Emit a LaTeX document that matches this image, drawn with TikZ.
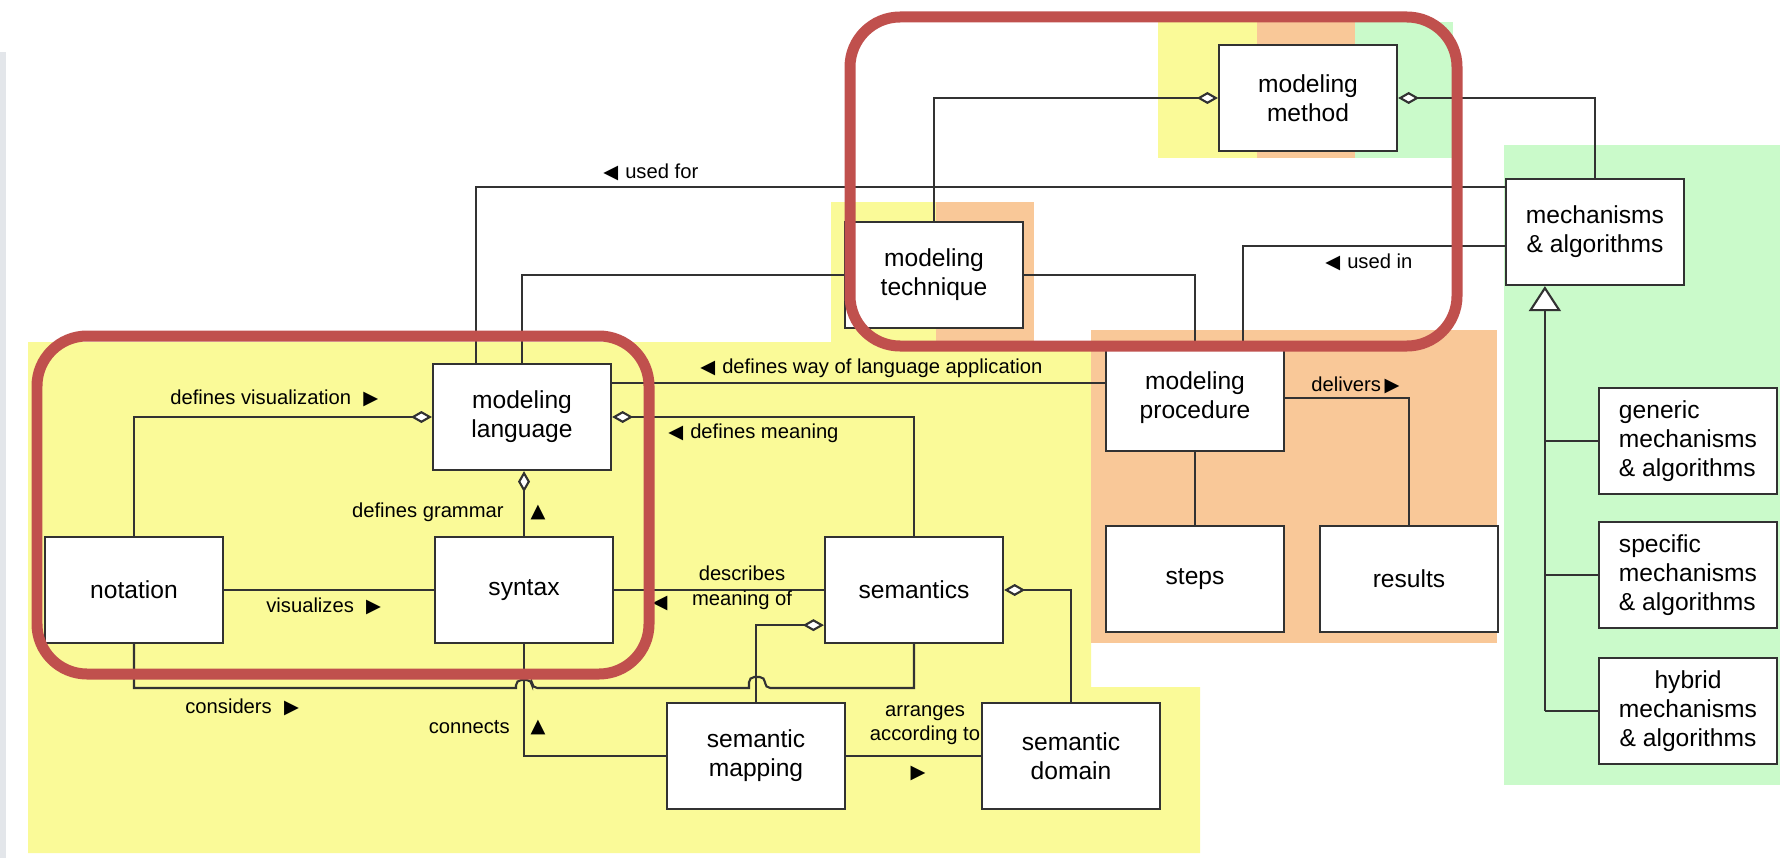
\documentclass[tikz,border=0pt]{standalone}
\usepackage{fontspec}
\setmainfont{Liberation Sans}
\newfontfamily\trifont{DejaVu Sans}
\usetikzlibrary{arrows.meta,calc}

\definecolor{bgyellow}{RGB}{250,250,152}
\definecolor{bgorange}{RGB}{249,200,152}
\definecolor{bggreen}{RGB}{202,250,202}
\definecolor{hilite}{RGB}{192,80,77}
\definecolor{ink}{RGB}{50,50,50}
\definecolor{strip}{RGB}{227,230,234}

\newcommand{\tri}[1]{{\trifont\fontsize{11}{11}\selectfont #1}}

\tikzset{
  box/.style={draw=ink, line width=1.3pt, fill=white, minimum width=3.56cm, minimum height=2.12cm,
    align=center, inner sep=2pt, font=\fontsize{14}{16.5}\selectfont},
  lbl/.style={inner sep=0pt, align=center, font=\fontsize{11.5}{14}\selectfont},
  link/.style={draw=ink, line width=1.2pt},
  agg/.style={link, -{Diamond[fill=white, length=0.42cm, width=0.24cm]}},
  inh/.style={link, -{Triangle[fill=white, length=0.5cm, width=0.64cm]}},
  hilite box/.style={draw=hilite, line width=0.22cm, rounded corners=1cm},
}

\begin{document}
\begin{tikzpicture}[x=0.02cm, y=-0.02cm]
  % Colour zones
  \useasboundingbox (0,0) rectangle (1780,858);
  \fill[strip] (0,52) rectangle (6,858);
  \fill[bgyellow] (28,342) -- (1091,342) -- (1091,687) -- (1200,687) -- (1200,853) -- (28,853) -- cycle;
  \fill[bgyellow] (831,202) rectangle (936,343);
  \fill[bgorange] (936,202) rectangle (1034,343);
  \fill[bgorange] (1091,330) rectangle (1497,643);
  \fill[bgyellow] (1158,22) rectangle (1257,158);
  \fill[bgorange] (1257,22) rectangle (1355,158);
  \fill[bggreen] (1355,22) rectangle (1453,158);
  \fill[bggreen] (1504,145) rectangle (1780,785);

  % Nodes
  \node[box] (lang) at (522,417) {modeling\\language};
  \node[box] (notation) at (134,590) {notation};
  \node[box] (syntax) at (524,590) {syntax};
  \node[box] (sem) at (914,590) {semantics};
  \node[box] (semmap) at (756,756) {semantic\\mapping};
  \node[box] (semdom) at (1071,756) {semantic\\domain};
  \node[box] (tech) at (934,275) {modeling\\technique};
  \node[box] (method) at (1308,98) {modeling\\method};
  \node[box] (mech) at (1595,232) {mechanisms\\\& algorithms};
  \node[box] (proc) at (1195,398) {modeling\\procedure};
  \node[box] (steps) at (1195,579) {steps};
  \node[box] (results) at (1409,579) {results};
  \foreach \n/\y/\al in {generic/441/left, specific/575/left, hybrid/711/center} {
    \node[box, align=\al] (\n) at (1688,\y) {\n\\mechanisms\\\& algorithms};
  }

  % Connectors
  \draw[agg] (notation.north) |- (lang.west);
  \draw[agg] (syntax.north) -- (syntax.north |- lang.south);
  \draw[link] (notation.east) -- (syntax.west);
  \draw[link] (syntax.east) -- (sem.west);
  \draw[agg] (sem.north) |- (lang.east);
  \draw[link] (lang.east |- 0,383) -- (proc.west |- 0,383);
  \draw[link] (notation.south) |- (516,688) [rounded corners=3pt] -- (516,680) -- (532,680) -- (532,688)
    [sharp corners] -- (749,688) [rounded corners=3pt] -- (749,677) -- (765,677) -- (765,688)
    [sharp corners] -| (sem.south);
  \draw[link] (syntax.south) |- (semmap.west);
  \draw[link] (semmap.east) -- (semdom.west);
  \draw[agg] (semdom.north) |- (sem.east);
  \draw[agg] (semmap.north) |- ($(sem.south west)+(0,-19)$);
  \draw[link] ($(lang.north west)+(44,0)$) |- (mech.west |- 0,187);
  \draw[link] (lang.north) |- (tech.west);
  \draw[agg] (tech.north) |- (method.west);
  \draw[agg] (mech.north) |- (method.east);
  \draw[link] (tech.east) -| (proc.north);
  \draw[link] (mech.west |- 0,246) -| ($(proc.north west)+(138,0)$);
  \draw[link] (proc.east) -| (results.north);
  \draw[link] (proc.south) -- (steps.north);
  \coordinate (apex) at ($(mech.south west)+(40,0)$);
  \draw[inh] (apex |- hybrid.west) -- (apex);
  \foreach \n in {generic,specific,hybrid} {
    \draw[link] (apex |- \n.west) -- (\n.west);
  }

  % Labels
  \node[lbl, anchor=west] (lvisual) at (170,398) {defines visualization\hspace{7pt}\tri{▶}};
  \node[lbl, anchor=west] (lvisualizes) at (266,606) {visualizes\hspace{7pt}\tri{▶}};
  \node[lbl, anchor=east] (lgrammar) at (504,512) {defines grammar};
  \node[inner sep=0pt] (tgrammar) at (538,512) {\tri{▲}};
  \node[lbl, anchor=west] (lway) at (700,368) {\tri{◀}\hspace{4pt}defines way of language application};
  \node[lbl, anchor=west] (lmeaning) at (668,433) {\tri{◀}\hspace{4pt}defines meaning};
  \node[lbl] (ldescribes) at (742,588) {describes\\meaning of};
  \node[inner sep=0pt] (tdescribes) at (660,603) {\tri{◀}};
  \node[lbl, anchor=west] (lconsiders) at (185,707) {considers\hspace{7pt}\tri{▶}};
  \node[lbl, anchor=east] (lconnects) at (510,727) {connects};
  \node[inner sep=0pt] (tconnects) at (538,727) {\tri{▲}};
  \node[lbl] (larranges) at (925,725) {arranges\\according to};
  \node[inner sep=0pt] (tarranges) at (918,773) {\tri{▶}};
  \node[lbl, anchor=west] (lusedfor) at (603,172) {\tri{◀}\hspace{4pt}used for};
  \node[lbl, anchor=west] (lusedin) at (1325,262) {\tri{◀}\hspace{4pt}used in};
  \node[lbl, anchor=west] (ldelivers) at (1311,385) {delivers\hspace{2pt}\tri{▶}};

  % Highlights
  \draw[hilite box] (37,336) rectangle (649,674);
  \draw[hilite box] (850,17) rectangle (1457,346);
\end{tikzpicture}
\end{document}
